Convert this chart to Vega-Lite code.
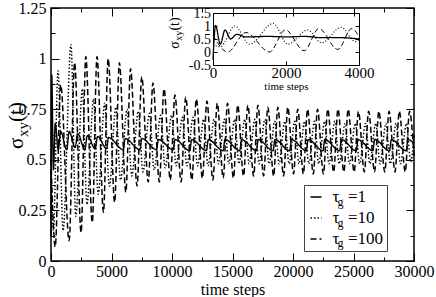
{
  "$schema": "https://vega.github.io/schema/vega-lite/v6.json",
  "width": 363,
  "height": 253,
  "autosize": "none",
  "padding": {"left": 51, "top": 8, "right": 22, "bottom": 36},
  "background": "white",
  "config": {
    "view": {"stroke": "black", "strokeWidth": 1.5},
    "font": "Liberation Serif",
    "axis": {"grid": false, "domain": false, "labelFont": "Liberation Serif", "titleFont": "Liberation Serif", "labelColor": "black", "titleColor": "black", "tickColor": "black", "domainColor": "black", "titleFontWeight": "normal", "labelFlush": false, "labelOverlap": false, "labelBound": false, "tickWidth": 1},
    "legend": {"labelFont": "Liberation Serif", "labelColor": "black"}
  },
  "datasets": {
    "main": [
      {"s":"1","t":0,"v":0.12},{"s":"1","t":60,"v":0.92},{"s":"1","t":200,"v":0.45},{"s":"1","t":350,"v":0.68},{"s":"1","t":600,"v":0.55},{"s":"1","t":800,"v":0.64},{"s":"1","t":1300,"v":0.55},{"s":"1","t":1500,"v":0.64},{"s":"1","t":2000,"v":0.56},{"s":"1","t":2200,"v":0.63},{"s":"1","t":2800,"v":0.55},{"s":"1","t":3000,"v":0.62},{"s":"1","t":3650,"v":0.555},{"s":"1","t":3850,"v":0.615},{"s":"1","t":4600,"v":0.555},{"s":"1","t":4750,"v":0.61},{"s":"1","t":5975,"v":0.55},{"s":"1","t":6125,"v":0.605},{"s":"1","t":7350,"v":0.55},{"s":"1","t":7500,"v":0.605},{"s":"1","t":8725,"v":0.55},{"s":"1","t":8875,"v":0.60},{"s":"1","t":10100,"v":0.55},{"s":"1","t":10250,"v":0.60},{"s":"1","t":11475,"v":0.545},{"s":"1","t":11625,"v":0.60},{"s":"1","t":12850,"v":0.545},{"s":"1","t":13000,"v":0.60},{"s":"1","t":14225,"v":0.545},{"s":"1","t":14375,"v":0.60},{"s":"1","t":15600,"v":0.545},{"s":"1","t":15750,"v":0.60},{"s":"1","t":16975,"v":0.545},{"s":"1","t":17125,"v":0.60},{"s":"1","t":18350,"v":0.545},{"s":"1","t":18500,"v":0.60},{"s":"1","t":19725,"v":0.545},{"s":"1","t":19875,"v":0.60},{"s":"1","t":21100,"v":0.545},{"s":"1","t":21250,"v":0.60},{"s":"1","t":22475,"v":0.545},{"s":"1","t":22625,"v":0.60},{"s":"1","t":23850,"v":0.545},{"s":"1","t":24000,"v":0.60},{"s":"1","t":25225,"v":0.545},{"s":"1","t":25375,"v":0.60},{"s":"1","t":26600,"v":0.545},{"s":"1","t":26750,"v":0.60},{"s":"1","t":27975,"v":0.545},{"s":"1","t":28125,"v":0.60},{"s":"1","t":29350,"v":0.545},{"s":"1","t":29500,"v":0.60},{"s":"1","t":30000,"v":0.58},
      {"s":"10","t":0,"v":0.45},{"s":"10","t":200,"v":0.15},{"s":"10","t":580,"v":0.94},{"s":"10","t":1000,"v":0.15},{"s":"10","t":1650,"v":1.07},{"s":"10","t":2050,"v":0.22},{"s":"10","t":2590,"v":0.85},{"s":"10","t":2975,"v":0.28},{"s":"10","t":3511,"v":0.80},{"s":"10","t":3900,"v":0.33},{"s":"10","t":4436,"v":0.78},{"s":"10","t":4825,"v":0.37},{"s":"10","t":5361,"v":0.76},{"s":"10","t":5750,"v":0.40},{"s":"10","t":6286,"v":0.75},{"s":"10","t":6675,"v":0.42},{"s":"10","t":7211,"v":0.74},{"s":"10","t":7600,"v":0.44},{"s":"10","t":8136,"v":0.73},{"s":"10","t":8525,"v":0.45},{"s":"10","t":9056,"v":0.72},{"s":"10","t":9440,"v":0.46},{"s":"10","t":9962,"v":0.72},{"s":"10","t":10340,"v":0.47},{"s":"10","t":10856,"v":0.71},{"s":"10","t":11230,"v":0.47},{"s":"10","t":11740,"v":0.71},{"s":"10","t":12110,"v":0.47},{"s":"10","t":12615,"v":0.70},{"s":"10","t":12980,"v":0.47},{"s":"10","t":13479,"v":0.70},{"s":"10","t":13840,"v":0.48},{"s":"10","t":14333,"v":0.70},{"s":"10","t":14690,"v":0.48},{"s":"10","t":15177,"v":0.70},{"s":"10","t":15530,"v":0.48},{"s":"10","t":16014,"v":0.70},{"s":"10","t":16365,"v":0.48},{"s":"10","t":16846,"v":0.70},{"s":"10","t":17195,"v":0.48},{"s":"10","t":17674,"v":0.70},{"s":"10","t":18020,"v":0.48},{"s":"10","t":18499,"v":0.69},{"s":"10","t":18845,"v":0.48},{"s":"10","t":19324,"v":0.69},{"s":"10","t":19670,"v":0.48},{"s":"10","t":20146,"v":0.69},{"s":"10","t":20490,"v":0.48},{"s":"10","t":20960,"v":0.69},{"s":"10","t":21300,"v":0.48},{"s":"10","t":21779,"v":0.69},{"s":"10","t":22125,"v":0.48},{"s":"10","t":22615,"v":0.69},{"s":"10","t":22970,"v":0.48},{"s":"10","t":23460,"v":0.69},{"s":"10","t":23815,"v":0.48},{"s":"10","t":24305,"v":0.68},{"s":"10","t":24660,"v":0.48},{"s":"10","t":25150,"v":0.68},{"s":"10","t":25505,"v":0.48},{"s":"10","t":25995,"v":0.68},{"s":"10","t":26350,"v":0.48},{"s":"10","t":26840,"v":0.68},{"s":"10","t":27195,"v":0.48},{"s":"10","t":27685,"v":0.68},{"s":"10","t":28040,"v":0.48},{"s":"10","t":28530,"v":0.68},{"s":"10","t":28885,"v":0.48},{"s":"10","t":29375,"v":0.68},{"s":"10","t":29730,"v":0.49},{"s":"10","t":30000,"v":0.62},
      {"s":"100","t":0,"v":0.50},{"s":"100","t":350,"v":0.07},{"s":"100","t":800,"v":0.87},{"s":"100","t":1500,"v":0.10},{"s":"100","t":1950,"v":0.98},{"s":"100","t":2487,"v":0.14},{"s":"100","t":2875,"v":1.01},{"s":"100","t":3411,"v":0.19},{"s":"100","t":3800,"v":1.01},{"s":"100","t":4336,"v":0.24},{"s":"100","t":4725,"v":1.00},{"s":"100","t":5261,"v":0.29},{"s":"100","t":5650,"v":0.98},{"s":"100","t":6186,"v":0.34},{"s":"100","t":6575,"v":0.95},{"s":"100","t":7111,"v":0.37},{"s":"100","t":7500,"v":0.91},{"s":"100","t":8036,"v":0.39},{"s":"100","t":8425,"v":0.88},{"s":"100","t":8956,"v":0.39},{"s":"100","t":9340,"v":0.85},{"s":"100","t":9862,"v":0.40},{"s":"100","t":10240,"v":0.82},{"s":"100","t":10756,"v":0.39},{"s":"100","t":11130,"v":0.81},{"s":"100","t":11640,"v":0.40},{"s":"100","t":12010,"v":0.80},{"s":"100","t":12515,"v":0.41},{"s":"100","t":12880,"v":0.79},{"s":"100","t":13379,"v":0.40},{"s":"100","t":13740,"v":0.78},{"s":"100","t":14233,"v":0.41},{"s":"100","t":14590,"v":0.78},{"s":"100","t":15077,"v":0.41},{"s":"100","t":15430,"v":0.77},{"s":"100","t":15914,"v":0.42},{"s":"100","t":16265,"v":0.77},{"s":"100","t":16746,"v":0.42},{"s":"100","t":17095,"v":0.77},{"s":"100","t":17574,"v":0.42},{"s":"100","t":17920,"v":0.76},{"s":"100","t":18399,"v":0.42},{"s":"100","t":18745,"v":0.76},{"s":"100","t":19224,"v":0.42},{"s":"100","t":19570,"v":0.76},{"s":"100","t":20046,"v":0.43},{"s":"100","t":20390,"v":0.75},{"s":"100","t":20860,"v":0.43},{"s":"100","t":21200,"v":0.75},{"s":"100","t":21679,"v":0.43},{"s":"100","t":22025,"v":0.75},{"s":"100","t":22515,"v":0.43},{"s":"100","t":22870,"v":0.75},{"s":"100","t":23360,"v":0.44},{"s":"100","t":23715,"v":0.75},{"s":"100","t":24205,"v":0.44},{"s":"100","t":24560,"v":0.75},{"s":"100","t":25050,"v":0.44},{"s":"100","t":25405,"v":0.74},{"s":"100","t":25895,"v":0.44},{"s":"100","t":26250,"v":0.74},{"s":"100","t":26740,"v":0.44},{"s":"100","t":27095,"v":0.74},{"s":"100","t":27585,"v":0.44},{"s":"100","t":27940,"v":0.74},{"s":"100","t":28430,"v":0.44},{"s":"100","t":28785,"v":0.74},{"s":"100","t":29275,"v":0.44},{"s":"100","t":29630,"v":0.74},{"s":"100","t":30000,"v":0.52}
    ],
    "inset": [
      {"s":"1","t":0,"v":-0.3},{"s":"1","t":70,"v":1.02},{"s":"1","t":200,"v":0.3},{"s":"1","t":330,"v":0.85},{"s":"1","t":480,"v":0.5},{"s":"1","t":650,"v":0.68},{"s":"1","t":900,"v":0.58},{"s":"1","t":1500,"v":0.6},{"s":"1","t":2000,"v":0.58},{"s":"1","t":2500,"v":0.6},{"s":"1","t":3000,"v":0.55},{"s":"1","t":3500,"v":0.55},{"s":"1","t":4000,"v":0.5},
      {"s":"10","t":0,"v":0.3},{"s":"10","t":200,"v":0.2},{"s":"10","t":600,"v":1.0},{"s":"10","t":1000,"v":0.3},{"s":"10","t":1650,"v":1.1},{"s":"10","t":2050,"v":0.3},{"s":"10","t":2590,"v":0.85},{"s":"10","t":2975,"v":0.35},{"s":"10","t":3511,"v":0.95},{"s":"10","t":3900,"v":0.4},{"s":"10","t":4000,"v":0.5},
      {"s":"100","t":0,"v":0.65},{"s":"100","t":150,"v":0.3},{"s":"100","t":400,"v":0.0},{"s":"100","t":900,"v":0.75},{"s":"100","t":1550,"v":0.0},{"s":"100","t":1980,"v":0.85},{"s":"100","t":2500,"v":0.05},{"s":"100","t":2900,"v":0.9},{"s":"100","t":3420,"v":0.1},{"s":"100","t":3800,"v":0.9},{"s":"100","t":4000,"v":0.6}
    ]
  },
  "layer": [
    {
      "resolve": {"scale": {"x": "shared", "y": "shared"}, "axis": {"x": "independent", "y": "independent"}},
      "layer": [
        {
          "data": {"name": "main"},
          "mark": {"type": "line", "interpolate": "monotone", "color": "black"},
          "encoding": {
            "x": {"field": "t", "type": "quantitative", "scale": {"domain": [0, 30000], "nice": false, "zero": false},
              "axis": {"orient": "bottom", "values": [0,5000,10000,15000,20000,25000,30000], "tickSize": -8, "labelPadding": 10, "labelFontSize": 16, "labelExpr": "toString(datum.value)", "title": "time steps", "titleFontWeight": "normal", "titleFontSize": 16, "titlePadding": 2}},
            "y": {"field": "v", "type": "quantitative", "scale": {"domain": [0, 1.25], "nice": false, "zero": false},
              "axis": {"orient": "left", "values": [0,0.25,0.5,0.75,1,1.25], "tickSize": -8, "labelPadding": 13, "labelFontSize": 16, "labelExpr": "toString(datum.value)", "title": "σ\u2002 (t)", "titleFontWeight": "normal", "titleFontSize": 21, "titleX": -29, "titleY": 117, "titleBaseline": "alphabetic", "titleAlign": "center", "titleAngle": 270}},
            "strokeDash": {"field": "s", "type": "nominal", "scale": {"domain": ["1","10","100"], "range": [[1,0],[1.5,2],[6,3]]},
              "legend": {"orient": "none", "legendX": 253, "legendY": 177, "title": null, "labelExpr": "'τ'", "labelFont": "Liberation Serif", "labelFontSize": 17, "symbolType": "stroke", "symbolSize": 121, "symbolStrokeWidth": 1.5, "symbolStrokeColor": "black", "padding": 3.5, "rowPadding": 3, "labelOffset": 8}},
            "strokeWidth": {"field": "s", "type": "nominal", "scale": {"domain": ["100","10","1"], "range": [1.5, 1.4, 1.8]},
              "legend": {"orient": "none", "legendX": 253, "legendY": 177, "title": null, "values": ["1","10","100"], "labelExpr": "'=' + datum.label", "labelFont": "Liberation Serif", "labelFontSize": 17, "symbolType": "stroke", "symbolSize": 121, "symbolOpacity": 0, "padding": 3.5, "rowPadding": 3, "labelOffset": 23.5, "strokeColor": "#444"}}
          }
        },
        {
          "data": {"name": "main"},
          "mark": {"type": "point", "opacity": 0},
          "encoding": {
            "x": {"field": "t", "type": "quantitative", "axis": {"orient": "bottom", "values": [2500,7500,12500,17500,22500,27500], "tickSize": -4, "labels": false, "title": null}},
            "y": {"field": "v", "type": "quantitative", "axis": {"orient": "left", "values": [0.125,0.375,0.625,0.875,1.125], "tickSize": -4, "labels": false, "title": "xy", "titleFontWeight": "normal", "titleFontSize": 15, "titleX": -24, "titleY": 121, "titleBaseline": "alphabetic", "titleAlign": "center", "titleAngle": 270}}
          }
        },
        {
          "data": {"name": "main"},
          "mark": {"type": "point", "opacity": 0},
          "encoding": {
            "x": {"field": "t", "type": "quantitative", "axis": {"orient": "top", "values": [0,5000,10000,15000,20000,25000,30000], "tickSize": -8, "labels": false, "title": null}},
            "y": {"field": "v", "type": "quantitative", "axis": {"orient": "right", "values": [0,0.25,0.5,0.75,1,1.25], "tickSize": -8, "labels": false, "title": null}}
          }
        },
        {
          "data": {"name": "main"},
          "mark": {"type": "point", "opacity": 0},
          "encoding": {
            "x": {"field": "t", "type": "quantitative", "axis": {"orient": "top", "values": [2500,7500,12500,17500,22500,27500], "tickSize": -4, "labels": false, "title": null}},
            "y": {"field": "v", "type": "quantitative", "axis": {"orient": "right", "values": [0.125,0.375,0.625,0.875,1.125], "tickSize": -4, "labels": false, "title": null}}
          }
        }
      ]
    },
    {
      "resolve": {"scale": {"x": "shared", "y": "shared"}, "axis": {"x": "independent", "y": "independent"}},
      "layer": [
        {
          "data": {"name": "inset"},
          "mark": {"type": "line", "interpolate": "monotone", "color": "black"},
          "encoding": {
            "x": {"field": "t", "type": "quantitative", "scale": {"domain": [0, 4000], "range": [162, 308], "nice": false, "zero": false},
              "axis": {"orient": "bottom", "offset": -196, "domain": true, "values": [0,2000,4000], "tickSize": -4, "labelPadding": 4.5, "labelFontSize": 15, "labelExpr": "toString(datum.value)", "title": "time steps", "titleFontWeight": "normal", "titleFontSize": 11, "titlePadding": 0}},
            "y": {"field": "v", "type": "quantitative", "scale": {"domain": [-0.5, 1.5], "range": [57, 5], "nice": false, "zero": false},
              "axis": {"orient": "left", "offset": -162, "domain": true, "values": [-0.5,0,0.5,1,1.5], "tickSize": -4, "labelPadding": 6.5, "labelFontSize": 14, "labelExpr": "toString(datum.value)", "title": "σ\u2002 (t)", "titleFontWeight": "normal", "titleFontSize": 14, "titleX": -35, "titleY": 24.5, "titleBaseline": "alphabetic", "titleAlign": "center", "titleAngle": 270}},
            "strokeDash": {"field": "s", "type": "nominal", "scale": {"domain": ["1","10","100"], "range": [[1,0],[1,2],[5,3]]},
              "legend": {"orient": "none", "legendX": 262, "legendY": 183.5, "title": null, "labelExpr": "'g'", "labelFont": "Liberation Serif", "labelFontSize": 12, "symbolType": "stroke", "symbolSize": 121, "symbolStrokeWidth": 1.5, "symbolOpacity": 0, "padding": 3.5, "rowPadding": 8, "labelOffset": 8}},
            "strokeWidth": {"field": "s", "type": "nominal", "scale": {"domain": ["1","10","100"], "range": [1.3, 1, 1]}, "legend": null}
          }
        },
        {
          "data": {"name": "inset"},
          "mark": {"type": "point", "opacity": 0},
          "encoding": {
            "x": {"field": "t", "type": "quantitative", "axis": null},
            "y": {"field": "v", "type": "quantitative", "axis": {"orient": "left", "offset": -162, "ticks": false, "labels": false, "title": "xy", "titleFontWeight": "normal", "titleFontSize": 10, "titleX": -31.5, "titleY": 27.3, "titleBaseline": "alphabetic", "titleAlign": "center", "titleAngle": 270}}
          }
        },
        {
          "data": {"name": "inset"},
          "mark": {"type": "point", "opacity": 0},
          "encoding": {
            "x": {"field": "t", "type": "quantitative", "axis": {"orient": "top", "offset": -5, "domain": true, "values": [0,2000,4000], "tickSize": -4, "labels": false, "title": null}},
            "y": {"field": "v", "type": "quantitative", "axis": {"orient": "right", "offset": -55, "domain": true, "values": [-0.5,0,0.5,1,1.5], "tickSize": -4, "labels": false, "title": null}}
          }
        }
      ]
    }
  ],
  "resolve": {
    "scale": {"x": "independent", "y": "independent", "strokeDash": "independent", "strokeWidth": "independent"},
    "axis": {"x": "independent", "y": "independent"},
    "legend": {"strokeDash": "independent", "strokeWidth": "independent"}
  }
}
